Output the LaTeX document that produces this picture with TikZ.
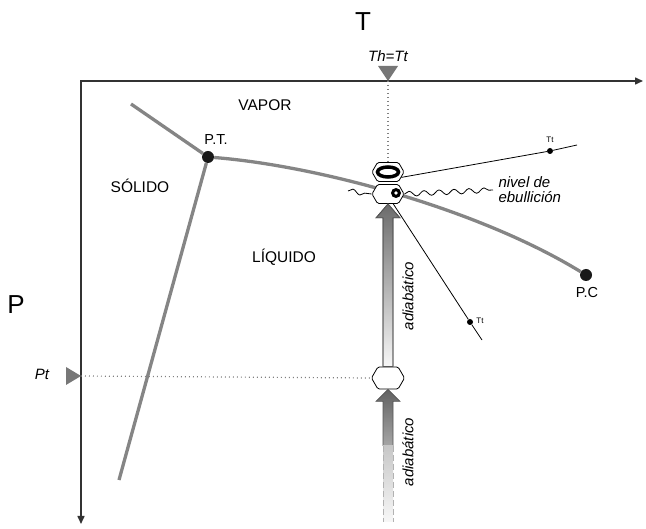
\documentclass[tikz,border=0pt]{standalone}
\usepackage{fontspec}
\setmainfont{Liberation Sans}
\usetikzlibrary{arrows.meta,shapes.symbols,decorations.pathmorphing}

\definecolor{axisgray}{HTML}{333333}
\definecolor{curvegray}{HTML}{858585}
\definecolor{markgray}{HTML}{777777}
\definecolor{edgegray}{HTML}{555555}

\begin{document}
\begin{tikzpicture}[x=1pt,y=-1pt,
  axisline/.style={draw=axisgray, line width=1.5pt},
  phase/.style={draw=curvegray, line width=3.3pt},
  bigdot/.style={circle, fill=black!90, inner sep=0pt, minimum size=12pt},
  smalldot/.style={circle, fill=black, inner sep=0pt, minimum size=6pt},
  hexa/.style={signal, signal to=east and west, signal pointer angle=120,
    draw=black, line width=0.8pt, fill=white, inner sep=0pt,
    minimum width=32pt, minimum height=19pt, rounded corners=1.5pt},
  guide/.style={draw=gray, line width=1.2pt, dash pattern=on 0.8pt off 3.2pt},
  thin/.style={draw=black, line width=0.8pt},
  wave/.style={draw=black, line width=0.8pt, decorate,
    decoration={snake, segment length=15pt, amplitude=2.5pt}},
  region/.style={font=\fontsize{15.5}{18}\selectfont},
  pointlbl/.style={font=\fontsize{14.5}{17}\selectfont},
  slant/.style={font=\fontsize{15}{15}\selectfont\itshape},
  tiny/.style={font=\fontsize{8}{9}\selectfont},
  axislbl/.style={font=\fontsize{26}{28}\selectfont},
  blockarrow/.style={draw=edgegray, line width=0.7pt, line join=miter}
]
\useasboundingbox (0,0) rectangle (646,529);

% axes
\coordinate (O) at (81,81);
\coordinate (Tend) at (643,81);
\coordinate (Pend) at (81,524);
\draw[axisline, {Triangle[length=8pt,width=7pt]}-{Triangle[length=8pt,width=7pt]}]
  (Pend) -- (O) -- (Tend);
\node[axislbl] (Tlbl) at (363,22) {T};
\node[axislbl] (Plbl) at (16,305) {P};

% markers on the axes
\coordinate (Th) at (388,81);
\coordinate (Pt) at (81,376);
\fill[markgray] (Th) -- ++(-10,-15) -- ++(20,0) -- cycle;
\fill[markgray] (Pt) -- ++(-15,-9) -- ++(0,18) -- cycle;
\node[slant] (Thlbl) at (388,56) {Th=Tt};
\node[slant] (Ptlbl) at (42,374) {Pt};

% special points
\node[bigdot] (PT) at (208,157) {};
\node[bigdot] (PC) at (586,275) {};
\coordinate (sub) at (131,104);
\coordinate (melt) at (119,480);

% phase boundaries
\draw[phase] (sub) -- (PT);
\draw[phase] (PT) -- (melt);
\draw[phase] (PT) .. controls (320,166) and (480,210) .. (PC);

% region and point labels
\node[region] (vapor) at (265,105) {VAPOR};
\node[region] (solido) at (140,186) {SÓLIDO};
\node[region] (liquido) at (284,257) {LÍQUIDO};
\node[pointlbl] (PTlbl) at (216,140) {P.T.};
\node[pointlbl] (PClbl) at (587,293) {P.C};

% bubble states
\node[hexa] (vap) at (388,172) {};
\node[hexa] (liq) at (388,194) {};
\node[hexa, minimum height=22pt, minimum width=33pt] (pt) at (388,378) {};
\draw[line width=3.5pt] (vap.center) ellipse [x radius=10.5pt, y radius=5pt];
\fill ([xshift=8pt,yshift=1pt]liq.center) circle (5pt);
\fill[white] ([xshift=8pt,yshift=1pt]liq.center) circle (1.8pt);

% guide lines
\draw[guide] (Th) -- (vap.north);
\draw[guide] (Pt) -- (pt.west);

% boiling level
\coordinate (wl) at (348,191);
\coordinate (wr) at (493,190);
\draw[wave] (wl) -- (liq.west);
\draw[wave] (liq.east) -- (wr);
\node[slant, anchor=west, align=left, font=\fontsize{15}{15}\selectfont\itshape]
  (nivel) at (495,190) {nivel de\\ebullición};

% isotherm lines
\node[smalldot] (tt1) at (550,151) {};
\node[smalldot] (tt2) at (470,322) {};
\coordinate (tt1end) at (577,145);
\coordinate (tt2end) at (482,340);
\draw[thin] (vap.-22) -- (tt1) -- (tt1end);
\draw[thin] (liq.-62) -- (tt2) -- (tt2end);
\node[tiny] (tt1lbl) at (550,140) {Tt};
\node[tiny] (tt2lbl) at (480,321) {Tt};

% upper adiabatic arrow
\shade[blockarrow, top color=black!58, bottom color=black!3]
  ([xshift=-5pt]pt.north) -- ([xshift=-5pt,yshift=-14pt]liq.south)
  -- ([xshift=-12pt,yshift=-14pt]liq.south) -- (liq.south)
  -- ([xshift=12pt,yshift=-14pt]liq.south) -- ([xshift=5pt,yshift=-14pt]liq.south)
  -- ([xshift=5pt]pt.north) -- cycle;
\draw[blockarrow] ([xshift=-5pt]pt.north) -- ([xshift=-5pt,yshift=-14pt]liq.south)
  -- ([xshift=-12pt,yshift=-14pt]liq.south) -- (liq.south)
  -- ([xshift=12pt,yshift=-14pt]liq.south) -- ([xshift=5pt,yshift=-14pt]liq.south)
  -- ([xshift=5pt]pt.north);
\node[slant, rotate=90] (adia1) at (408,296) {adiabático};

% lower adiabatic arrow
\coordinate (fade) at (388,446);
\coordinate (tail) at (388,522);
\shade[top color=black!62, bottom color=black!35]
  ([xshift=-5pt]fade) -- ([xshift=-5pt,yshift=-12pt]pt.south)
  -- ([xshift=-12pt,yshift=-12pt]pt.south) -- (pt.south)
  -- ([xshift=12pt,yshift=-12pt]pt.south) -- ([xshift=5pt,yshift=-12pt]pt.south)
  -- ([xshift=5pt]fade) -- cycle;
\draw[blockarrow] ([xshift=-5pt]fade) -- ([xshift=-5pt,yshift=-12pt]pt.south)
  -- ([xshift=-12pt,yshift=-12pt]pt.south) -- (pt.south)
  -- ([xshift=12pt,yshift=-12pt]pt.south) -- ([xshift=5pt,yshift=-12pt]pt.south)
  -- ([xshift=5pt]fade);
\shade[top color=black!22, bottom color=black!3]
  ([xshift=-5pt]fade) rectangle ([xshift=5pt]tail);
\draw[draw=black!30, line width=0.9pt, dash pattern=on 6pt off 3pt]
  ([xshift=-5pt]fade) -- ([xshift=-5pt]tail)
  ([xshift=5pt]fade) -- ([xshift=5pt]tail);
\node[slant, rotate=90] (adia2) at (408,452) {adiabático};
\end{tikzpicture}
\end{document}
